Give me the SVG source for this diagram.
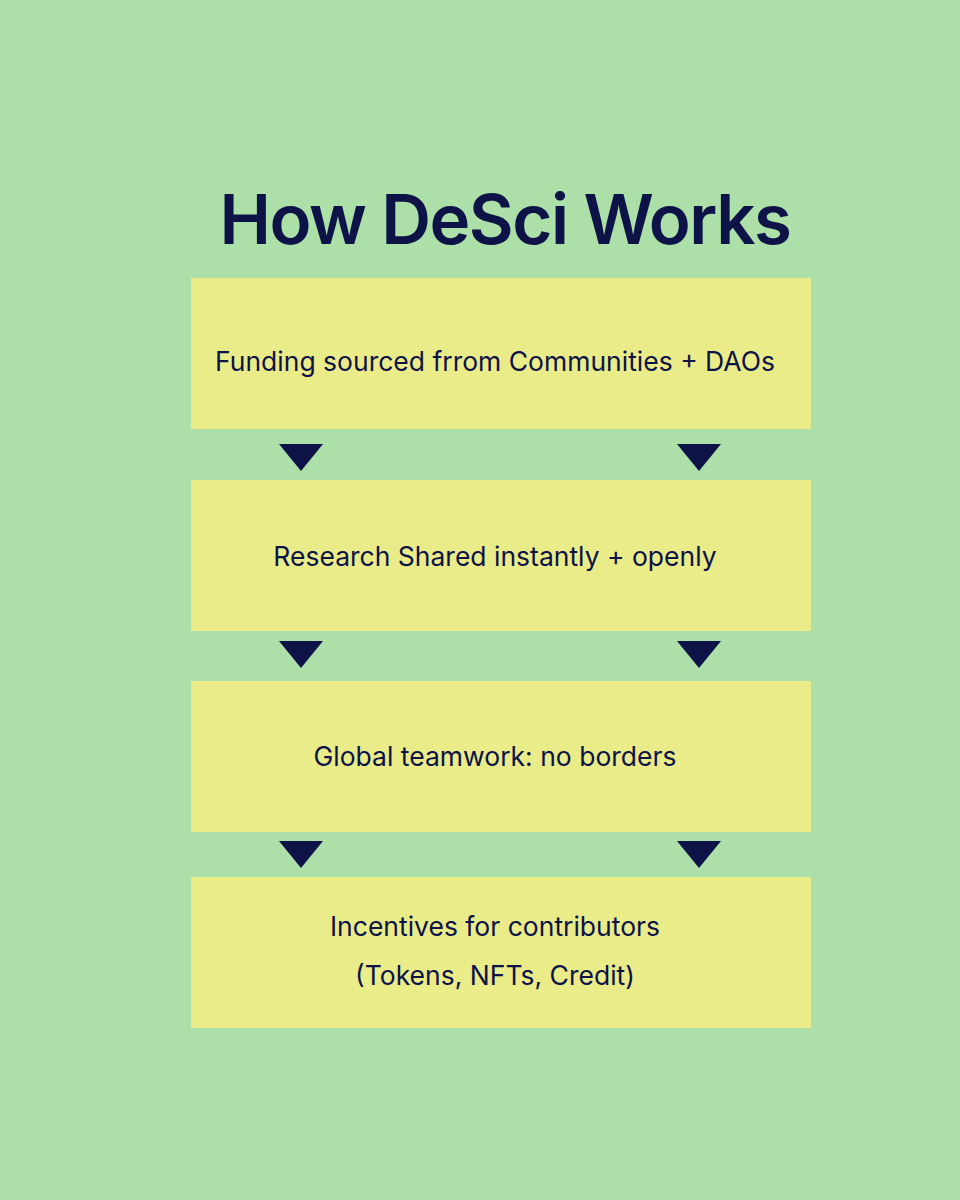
<svg xmlns="http://www.w3.org/2000/svg" width="960" height="1200" viewBox="0 0 960 1200">
<style>
.box{fill:#EAEC8A}
.t{font-family:Inter,"Liberation Sans",sans-serif;font-size:26.5px;fill:#0D1247;text-anchor:middle}
.arr{fill:#0D1247}
</style>
<rect width="960" height="1200" fill="#ADDFA8"/>
<text x="505" y="244" font-family="Inter,'Liberation Sans',sans-serif" font-size="69" font-weight="600" fill="#0D1247" text-anchor="middle" letter-spacing="-1.5">How DeSci Works</text>
<g id="n1"><rect class="box" x="191" y="278" width="620" height="151"/><text class="t" x="495" y="371">Funding sourced frrom Communities + DAOs</text></g>
<g id="n2"><rect class="box" x="191" y="480" width="620" height="151"/><text class="t" x="495" y="566">Research Shared instantly + openly</text></g>
<g id="n3"><rect class="box" x="191" y="681" width="620" height="151"/><text class="t" x="495" y="766">Global teamwork: no borders</text></g>
<g id="n4"><rect class="box" x="191" y="877" width="620" height="151"/><text class="t" x="495" y="936">Incentives for contributors</text><text class="t" x="495" y="985">(Tokens, NFTs, Credit)</text></g>
<g id="connectors">
<polygon class="arr" points="279,444 323,444 301,471"/><polygon class="arr" points="677,444 721,444 699,471"/>
<polygon class="arr" points="279,641 323,641 301,668"/><polygon class="arr" points="677,641 721,641 699,668"/>
<polygon class="arr" points="279,841 323,841 301,868"/><polygon class="arr" points="677,841 721,841 699,868"/>
</g>
</svg>
